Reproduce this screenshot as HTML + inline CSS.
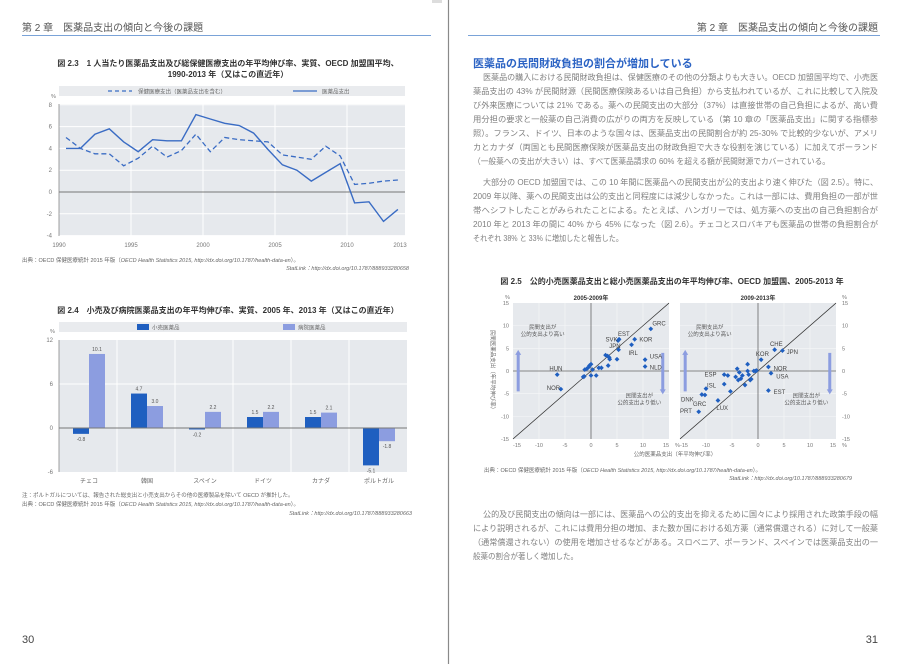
<!DOCTYPE html>
<html><head><meta charset="utf-8">
<style>
html,body{margin:0;padding:0;background:#fff;}
svg{display:block;font-family:"Liberation Sans","Noto Sans CJK JP",sans-serif;}
</style></head>
<body>
<svg id="s" width="900" height="664" viewBox="0 0 900 664" xmlns="http://www.w3.org/2000/svg">
<rect width="900" height="664" fill="#fff"/>
<line x1="448.5" y1="0" x2="448.5" y2="664" stroke="#8a8a8a" stroke-width="1.2"/>
<rect x="432" y="0" width="10" height="3" fill="#ddd"/>

<!-- headers -->
<text x="22" y="31" font-size="10" fill="#555">第 2 章　医薬品支出の傾向と今後の課題</text>
<line x1="22" y1="35.5" x2="431" y2="35.5" stroke="#7aa3d8" stroke-width="1"/>
<text x="878" y="31" font-size="10" fill="#555" text-anchor="end">第 2 章　医薬品支出の傾向と今後の課題</text>
<line x1="468" y1="35.5" x2="880" y2="35.5" stroke="#7aa3d8" stroke-width="1"/>

<!-- Fig 2.3 -->
<text x="228" y="66" font-size="8" font-weight="bold" fill="#333" text-anchor="middle">図 2.3　1 人当たり医薬品支出及び総保健医療支出の年平均伸び率、実質、OECD 加盟国平均、</text>
<text x="228" y="77" font-size="8" font-weight="bold" fill="#333" text-anchor="middle">1990-2013 年（又はこの直近年）</text>
<rect x="59" y="86" width="346" height="10" fill="#e9ebee"/>
<line x1="108" y1="91" x2="132" y2="91" stroke="#3a6cc4" stroke-width="1.2" stroke-dasharray="4,3"/>
<text x="138" y="93.5" font-size="5.5" fill="#666">保健医療支出（医薬品支出を含む）</text>
<line x1="293" y1="91" x2="317" y2="91" stroke="#3a6cc4" stroke-width="1.2"/>
<text x="322" y="93.5" font-size="5.5" fill="#666">医薬品支出</text>
<text x="51" y="98" font-size="5.5" fill="#777">%</text>
<rect x="59" y="104" width="346" height="132" fill="#e6e9ed"/>
<g id="g23"></g>
<text x="22" y="262" font-size="5.5" fill="#666">出典：OECD 保健医療統計 2015 年版（<tspan font-style="italic">OECD Health Statistics 2015, http://dx.doi.org/10.1787/health-data-en</tspan>）。</text>
<text x="409" y="270" font-size="5.5" fill="#666" text-anchor="end" font-style="italic">StatLink：http://dx.doi.org/10.1787/888933280658</text>

<!-- Fig 2.4 -->
<text x="228" y="313" font-size="8" font-weight="bold" fill="#333" text-anchor="middle">図 2.4　小売及び病院医薬品支出の年平均伸び率、実質、2005 年、2013 年（又はこの直近年）</text>
<rect x="59" y="322" width="348" height="10" fill="#e9ebee"/>
<rect x="137" y="324" width="12" height="6" fill="#1f5fc0"/>
<text x="152" y="329.5" font-size="5.5" fill="#666">小売医薬品</text>
<rect x="283" y="324" width="12" height="6" fill="#8c9de0"/>
<text x="298" y="329.5" font-size="5.5" fill="#666">病院医薬品</text>
<text x="50" y="333" font-size="5.5" fill="#777">%</text>
<rect x="59" y="340" width="348" height="132" fill="#e6e9ed"/>
<g id="g24"></g>
<text x="22" y="497" font-size="5.5" fill="#666">注：ポルトガルについては、報告された総支出と小売支出からその他の医療製品を除いて OECD が推計した。</text>
<text x="22" y="506" font-size="5.5" fill="#666">出典：OECD 保健医療統計 2015 年版（<tspan font-style="italic">OECD Health Statistics 2015, http://dx.doi.org/10.1787/health-data-en</tspan>）。</text>
<text x="412" y="515" font-size="5.5" fill="#666" text-anchor="end" font-style="italic">StatLink：http://dx.doi.org/10.1787/888933280663</text>

<text x="22" y="643" font-size="11" fill="#444">30</text>
<text x="878" y="643" font-size="11" fill="#444" text-anchor="end">31</text>

<!-- Right page text -->
<text x="473" y="67" font-size="11" font-weight="bold" fill="#2b63c4">医薬品の民間財政負担の割合が増加している</text>
<g font-size="8.2" fill="#808080">
<text x="483" y="80" textLength="395" lengthAdjust="spacingAndGlyphs">医薬品の購入における民間財政負担は、保健医療のその他の分類よりも大きい。OECD 加盟国平均で、小売医</text>
<text x="473" y="94" textLength="405" lengthAdjust="spacingAndGlyphs">薬品支出の 43% が民間財源（民間医療保険あるいは自己負担）から支払われているが、これに比較して入院及</text>
<text x="473" y="108" textLength="405" lengthAdjust="spacingAndGlyphs">び外来医療については 21% である。薬への民間支出の大部分（37%）は直接世帯の自己負担によるが、高い費</text>
<text x="473" y="122" textLength="405" lengthAdjust="spacingAndGlyphs">用分担の要求と一般薬の自己消費の広がりの両方を反映している（第 10 章の「医薬品支出」に関する指標参</text>
<text x="473" y="136" textLength="405" lengthAdjust="spacingAndGlyphs">照）。フランス、ドイツ、日本のような国々は、医薬品支出の民間割合が約 25-30% で比較的少ないが、アメリ</text>
<text x="473" y="150" textLength="405" lengthAdjust="spacingAndGlyphs">カとカナダ（両国とも民間医療保険が医薬品支出の財政負担で大きな役割を演じている）に加えてポーランド</text>
<text x="473" y="164" textLength="357" lengthAdjust="spacingAndGlyphs">（一般薬への支出が大きい）は、すべて医薬品請求の 60% を超える額が民間財源でカバーされている。</text>
<text x="483" y="185" textLength="395" lengthAdjust="spacingAndGlyphs">大部分の OECD 加盟国では、この 10 年間に医薬品への民間支出が公的支出より速く伸びた（図 2.5）。特に、</text>
<text x="473" y="199" textLength="405" lengthAdjust="spacingAndGlyphs">2009 年以降、薬への民間支出は公的支出と同程度には減少しなかった。これは一部には、費用負担の一部が世</text>
<text x="473" y="213" textLength="405" lengthAdjust="spacingAndGlyphs">帯へシフトしたことがみられたことによる。たとえば、ハンガリーでは、処方薬への支出の自己負担割合が</text>
<text x="473" y="227" textLength="405" lengthAdjust="spacingAndGlyphs">2010 年と 2013 年の間に 40% から 45% になった（図 2.6）。チェコとスロバキアも医薬品の世帯の負担割合が</text>
<text x="473" y="241" textLength="150" lengthAdjust="spacingAndGlyphs">それぞれ 38% と 33% に増加したと報告した。</text>
<text x="483" y="517" textLength="395" lengthAdjust="spacingAndGlyphs">公的及び民間支出の傾向は一部には、医薬品への公的支出を抑えるために国々により採用された政策手段の幅</text>
<text x="473" y="531" textLength="405" lengthAdjust="spacingAndGlyphs">により説明されるが、これには費用分担の増加、また数か国における処方薬（通常償還される）に対して一般薬</text>
<text x="473" y="545" textLength="405" lengthAdjust="spacingAndGlyphs">（通常償還されない）の使用を増加させるなどがある。スロベニア、ポーランド、スペインでは医薬品支出の一</text>
<text x="473" y="559" textLength="105" lengthAdjust="spacingAndGlyphs">般薬の割合が著しく増加した。</text>
</g>

<!-- Fig 2.5 -->
<text x="672" y="284" font-size="8" font-weight="bold" fill="#333" text-anchor="middle">図 2.5　公的小売医薬品支出と総小売医薬品支出の年平均伸び率、OECD 加盟国、2005-2013 年</text>
<g id="g25"></g>
<text x="484" y="472" font-size="5.5" fill="#666">出典：OECD 保健医療統計 2015 年版（<tspan font-style="italic">OECD Health Statistics 2015, http://dx.doi.org/10.1787/health-data-en</tspan>）。</text>
<text x="852" y="480" font-size="5.5" fill="#666" text-anchor="end" font-style="italic">StatLink：http://dx.doi.org/10.1787/888933280679</text>
</svg>
<script>
var NS="http://www.w3.org/2000/svg";
function el(p,t,a,txt){var e=document.createElementNS(NS,t);for(var k in a)e.setAttribute(k,a[k]);if(txt!==undefined)e.textContent=txt;p.appendChild(e);return e;}
var g=document.getElementById("g23");
function Y3(v){return 192-v*10.9;}
for(var v=-4;v<=8;v+=2){var y=Y3(v);if(v!=0)el(g,"line",{x1:59,x2:405,y1:y,y2:y,stroke:"#fff","stroke-width":1});el(g,"text",{x:52,y:y+2,"font-size":6,fill:"#777","text-anchor":"end"},String(v));}
[131,203,275,347].forEach(function(x){el(g,"line",{x1:x,x2:x,y1:104,y2:236,stroke:"#fff","stroke-width":1});});
el(g,"line",{x1:59,x2:59,y1:104,y2:236,stroke:"#888","stroke-width":0.8});
el(g,"line",{x1:59,x2:405,y1:192,y2:192,stroke:"#777","stroke-width":0.9});
[["1990",59],["1995",131],["2000",203],["2005",275],["2010",347],["2013",400]].forEach(function(a){el(g,"text",{x:a[1],y:247,"font-size":6,fill:"#777","text-anchor":"middle"},a[0]);});
var sol=[4.0,4.0,5.3,5.8,4.6,3.7,4.8,4.7,4.7,7.1,6.7,6.3,6.1,5.4,3.9,2.5,2.0,1.0,1.8,2.6,-1.0,-0.9,-2.7,-1.6];
var das=[5.0,4.0,3.5,3.5,2.4,3.1,4.2,3.2,3.8,5.3,3.7,5.0,4.8,4.7,4.6,3.4,3.2,3.0,4.2,3.3,0.7,0.8,1.0,1.1];
function pts(a){return a.map(function(v,i){return (66+i*14.43).toFixed(1)+","+Y3(v).toFixed(1);}).join(" ");}
el(g,"polyline",{points:pts(das),fill:"none",stroke:"#3a6cc4","stroke-width":1.3,"stroke-dasharray":"5,3"});
el(g,"polyline",{points:pts(sol),fill:"none",stroke:"#3a6cc4","stroke-width":1.4});
g=document.getElementById("g24");
function Y4(v){return 428-v*7.33;}
[12,6,0,-6].forEach(function(v){var y=Y4(v);if(v!=0&&v!=-6&&v!=12)el(g,"line",{x1:59,x2:407,y1:y,y2:y,stroke:"#fff"});el(g,"text",{x:53,y:y+2,"font-size":6,fill:"#777","text-anchor":"end"},String(v));});
for(var i=1;i<6;i++){el(g,"line",{x1:59+58*i,x2:59+58*i,y1:340,y2:472,stroke:"#fff"});}
el(g,"line",{x1:59,x2:59,y1:340,y2:472,stroke:"#888","stroke-width":0.8});
var cats=["チェコ","韓国","スペイン","ドイツ","カナダ","ポルトガル"];
var r=[-0.8,4.7,-0.2,1.5,1.5,-5.1],h=[10.1,3.0,2.2,2.2,2.1,-1.8];
function bar(x,v,c){var y0=Y4(0),y1=Y4(v);el(g,"rect",{x:x,y:Math.min(y0,y1),width:16,height:Math.abs(y1-y0),fill:c});
el(g,"text",{x:x+8,y:v>=0?y1-3:y1+7,"font-size":5,fill:"#555","text-anchor":"middle"},v.toFixed(1));}
for(var i=0;i<6;i++){var bx=59+58*i+14;bar(bx,r[i],"#1f5fc0");bar(bx+16,h[i],"#8c9de0");
el(g,"text",{x:59+58*i+30,y:483,"font-size":6,fill:"#666","text-anchor":"middle"},cats[i]);}
el(g,"line",{x1:59,x2:407,y1:428,y2:428,stroke:"#777","stroke-width":0.9});
g=document.getElementById("g25");
function panel(cx,title,ptsA,labs,left){
 var X=function(v){return cx+v*5.2;},Y=function(v){return 371-v*4.53;};
 el(g,"rect",{x:cx-78,y:303,width:156,height:136,fill:"#e6e9ed"});
 [-10,-5,5,10].forEach(function(v){el(g,"line",{x1:X(v),x2:X(v),y1:303,y2:439,stroke:"#f4f5f7","stroke-width":0.7});el(g,"line",{x1:cx-78,x2:cx+78,y1:Y(v),y2:Y(v),stroke:"#f4f5f7","stroke-width":0.7});});
 el(g,"line",{x1:X(0),x2:X(0),y1:303,y2:439,stroke:"#666","stroke-width":0.8});
 el(g,"line",{x1:cx-78,x2:cx+78,y1:Y(0),y2:Y(0),stroke:"#666","stroke-width":0.8});
 el(g,"line",{x1:X(-15),x2:X(15),y1:Y(-15),y2:Y(15),stroke:"#333","stroke-width":0.7});
 el(g,"text",{x:cx,y:300,"font-size":6,"font-weight":"bold",fill:"#333","text-anchor":"middle"},title);
 el(g,"rect",{x:X(-14)-1.5,y:Y(4),width:3,height:Y(-4.5)-Y(4),fill:"#8c9de0"});
 el(g,"polygon",{points:(X(-14)-3)+","+(Y(4)+2)+" "+(X(-14)+3)+","+(Y(4)+2)+" "+X(-14)+","+(Y(4)-3),fill:"#8c9de0"});
 el(g,"rect",{x:X(13.8)-1.5,y:Y(4),width:3,height:Y(-4.5)-Y(4),fill:"#8c9de0"});
 el(g,"polygon",{points:(X(13.8)-3)+","+(Y(-4.5)-2)+" "+(X(13.8)+3)+","+(Y(-4.5)-2)+" "+X(13.8)+","+(Y(-4.5)+3),fill:"#8c9de0"});
 el(g,"text",{x:X(-9.3),y:Y(9.3),"font-size":5.5,fill:"#555","text-anchor":"middle"},"民間支出が");
 el(g,"text",{x:X(-9.3),y:Y(9.3)+7,"font-size":5.5,fill:"#555","text-anchor":"middle"},"公的支出より高い");
 el(g,"text",{x:X(9.3),y:Y(-5.8),"font-size":5.5,fill:"#555","text-anchor":"middle"},"民間支出が");
 el(g,"text",{x:X(9.3),y:Y(-5.8)+7,"font-size":5.5,fill:"#555","text-anchor":"middle"},"公的支出より低い");
 ptsA.forEach(function(p){var x=X(p[0]),y=Y(p[1]);el(g,"polygon",{points:x+","+(y-2.4)+" "+(x+2.4)+","+y+" "+x+","+(y+2.4)+" "+(x-2.4)+","+y,fill:"#1f5fc0"});});
 labs.forEach(function(l){el(g,"text",{x:X(l[1]),y:Y(l[2])+2,"font-size":6,fill:"#444"},l[0]);});
 [-15,-10,-5,0,5,10,15].forEach(function(v){el(g,"text",{x:X(v)+(v==-15?4:0)-(v==15?3:0),y:447,"font-size":5.5,fill:"#777","text-anchor":"middle"},String(v));
  if(left)el(g,"text",{x:cx-82,y:Y(v)+2,"font-size":5.5,fill:"#777","text-anchor":"end"},String(v));
  else el(g,"text",{x:cx+84,y:Y(v)+2,"font-size":5.5,fill:"#777"},String(v));});
 el(g,"text",{x:X(15)+6,y:447,"font-size":5.5,fill:"#777"},"%");
 if(left)el(g,"text",{x:cx-86,y:299,"font-size":5.5,fill:"#777"},"%");else el(g,"text",{x:cx+84,y:299,"font-size":5.5,fill:"#777"},"%");
}
panel(591,"2005-2009年",[[-6.5,-0.8],[-5.8,-4],[-1.5,-1.3],[-1.3,-1.2],[-1.2,0.3],[-0.8,0.5],[-0.5,0.8],[-0.3,1.2],[0,1.5],[0.3,0.3],[0,-1],[1,-1],[1.5,0.7],[2,0.7],[2.8,3.5],[3.2,3.3],[3.5,3],[3.6,2.6],[3.3,1.2],[5,2.6],[5.3,4.7],[5.4,7],[5.2,6.7],[7.8,5.8],[8.4,7],[11.5,9.3],[10.4,2.5],[10.4,1.0]],
 [["GRC",11.8,10.5],["EST",5.2,8.2],["SVK",2.8,7],["KOR",9.3,7],["JPN",3.5,5.5],["IRL",7.2,4],["USA",11.3,3.2],["NLD",11.3,0.8],["HUN",-8,0.5],["NOR",-8.5,-3.8]],true);
panel(758,"2009-2013年",[[3.2,4.7],[4.7,4.5],[0.6,2.5],[2,0.9],[2.5,-0.5],[2,-4.3],[-6.5,-0.8],[-5.8,-1],[-10,-3.9],[-10.8,-5.2],[-10.2,-5.3],[-7.7,-6.5],[-11.4,-9],[-6.5,-2.9],[-5.3,-4.5],[-4,0.5],[-3.6,-0.3],[-3.8,-2],[-3.3,-1.7],[-3,-1.0],[-2.5,-3.1],[-2,1.5],[-2,0],[-1.8,-0.8],[-1.5,-2],[-1.3,-1.8],[-0.8,0],[-0.5,0],[-0.3,0.1],[-4.3,-1.3]],
 [["CHE",2.3,6],["JPN",5.5,4.2],["KOR",-0.4,3.8],["NOR",3,0.6],["USA",3.5,-1.2],["EST",3,-4.6],["ESP",-10.3,-0.8],["ISL",-9.8,-3.2],["DNK",-14.8,-6.3],["GRC",-12.5,-7.3],["LUX",-8,-8.2],["PRT",-15,-8.8]],false);
el(g,"text",{x:675,y:456,"font-size":5.5,fill:"#666","text-anchor":"middle"},"公的医薬品支出（年平均伸び率）");
el(g,"text",{x:0,y:0,"font-size":5.5,fill:"#666","text-anchor":"middle",transform:"translate(491,371) rotate(90)"},"民間医薬品支出（年平均伸び率）");
</script>
</body></html>
